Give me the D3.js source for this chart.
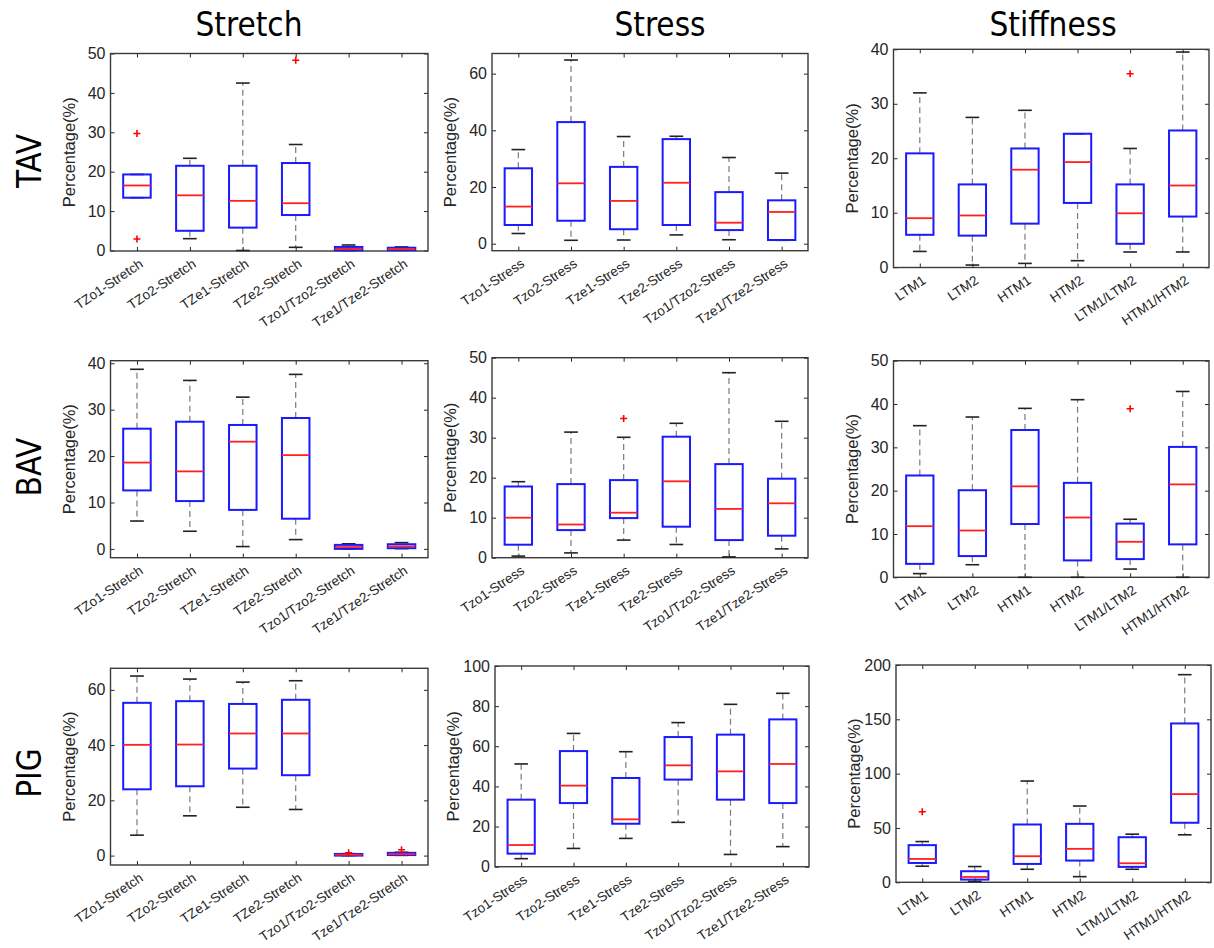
<!DOCTYPE html>
<html><head><meta charset="utf-8">
<script src="https://cdn.jsdelivr.net/npm/d3@7"></script>
<style>body{margin:0;background:#fff}svg{display:block}</style>
</head><body>
<svg id="c" width="1214" height="948"></svg>
<script>
const columnTitles = ["Stretch", "Stress", "Stiffness"];
const rowLabels = ["TAV", "BAV", "PIG"];
const yLabel = "Percentage(%)";

const stretchCats = ["TZo1-Stretch", "TZo2-Stretch", "TZe1-Stretch", "TZe2-Stretch", "Tzo1/Tzo2-Stretch", "Tze1/Tze2-Stretch"];
const stressCats = ["Tzo1-Stress", "Tzo2-Stress", "Tze1-Stress", "Tze2-Stress", "Tzo1/Tzo2-Stress", "Tze1/Tze2-Stress"];
const stiffCats = ["LTM1", "LTM2", "HTM1", "HTM2", "LTM1/LTM2", "HTM1/HTM2"];

// each row: [lower whisker, Q1, median, Q3, upper whisker]
const tavStretch = [[13.4, 13.4, 16.5, 19.3, 19.3], [3.0, 5.0, 14.0, 21.5, 23.4], [0.0, 5.8, 12.6, 21.5, 42.5], [0.8, 9.0, 12.0, 22.2, 26.9], [0.0, 0.05, 0.4, 0.9, 1.4], [0.05, 0.1, 0.35, 0.7, 0.9]];
const tavStretchOut = [[29.7, 2.9], [], [], [48.3], [], []];
const tavStress = [[3.6, 6.6, 13.1, 26.6, 33.2], [1.2, 8.1, 21.3, 42.9, 64.8], [1.3, 5.1, 15.1, 27.1, 37.8], [3.1, 6.6, 21.5, 36.9, 37.9], [1.4, 4.8, 7.4, 18.2, 30.4], [1.2, 1.3, 11.2, 15.3, 24.9]];
const tavStressOut = [[], [], [], [], [], []];
const tavStiff = [[2.9, 5.95, 9.0, 20.9, 32.0], [0.4, 5.8, 9.5, 15.2, 27.5], [0.7, 8.0, 17.9, 21.8, 28.8], [1.2, 11.8, 19.3, 24.5, 24.5], [2.8, 4.3, 9.9, 15.2, 21.8], [2.8, 9.3, 15.0, 25.1, 39.5]];
const tavStiffOut = [[], [], [], [], [35.5], []];

const bavStretch = [[6.0, 12.6, 18.6, 25.9, 38.7], [3.8, 10.3, 16.7, 27.4, 36.3], [0.5, 8.4, 23.1, 26.7, 32.7], [2.0, 6.5, 20.2, 28.2, 37.6], [0.0, 0.0, 0.4, 0.86, 1.1], [0.05, 0.15, 0.55, 1.0, 1.35]];
const bavStretchOut = [[], [], [], [], [], []];
const bavStress = [[0.4, 3.25, 10.0, 17.8, 19.0], [1.2, 6.9, 8.3, 18.4, 31.4], [4.4, 9.9, 11.25, 19.4, 30.1], [3.3, 7.75, 19.1, 30.25, 33.6], [0.2, 4.4, 12.2, 23.4, 46.25], [2.2, 5.5, 13.6, 19.75, 34.1]];
const bavStressOut = [[], [], [34.8], [], [], []];
const bavStiff = [[0.85, 3.1, 11.8, 23.5, 35.0], [2.9, 4.9, 10.8, 20.1, 37.0], [0.0, 12.3, 21.0, 34.0, 39.0], [0.0, 3.9, 13.8, 21.8, 41.0], [1.9, 4.2, 8.2, 12.4, 13.4], [0.0, 7.6, 21.45, 30.1, 42.9]];
const bavStiffOut = [[], [], [], [], [38.9], []];

const pigStretch = [[7.4, 24.0, 40.1, 55.3, 65.0], [14.4, 25.1, 40.2, 55.9, 63.9], [17.5, 31.5, 44.2, 54.9, 62.8], [16.7, 29.1, 44.2, 56.4, 63.3], [0.0, 0.0, 0.3, 0.6, 0.7], [0.1, 0.2, 0.5, 1.0, 1.2]];
const pigStretchOut = [[], [], [], [], [1.0], [2.1]];
const pigStress = [[4.0, 6.5, 10.8, 33.4, 51.2], [9.1, 31.7, 40.4, 57.6, 66.4], [14.1, 21.4, 23.6, 44.2, 57.3], [22.1, 43.4, 50.5, 64.6, 71.8], [6.1, 33.4, 47.5, 65.8, 80.9], [10.0, 31.7, 51.2, 73.4, 86.4]];
const pigStressOut = [[], [], [], [], [], []];
const pigStiff = [[14.8, 17.8, 21.5, 34.2, 37.5], [0.9, 2.5, 4.9, 10.2, 14.5], [12.0, 16.9, 24.0, 53.2, 93.2], [5.2, 20.0, 30.8, 53.8, 70.2], [12.0, 14.2, 17.5, 41.5, 44.3], [43.7, 54.8, 81.2, 146.2, 191.1]];
const pigStiffOut = [[64.9], [], [], [], [], []];

const ticks10to50 = [0, 10, 20, 30, 40, 50];
const ticks20to60 = [0, 20, 40, 60];
const ticks10to40 = [0, 10, 20, 30, 40];
const ticks20to100 = [0, 20, 40, 60, 80, 100];
const ticks50to200 = [0, 50, 100, 150, 200];

// layout: pixel frame and axis limits of each panel
const panels = [
  {row: 0, col: 0, cats: stretchCats, stats: tavStretch, out: tavStretchOut, ticks: ticks10to50, lim: [-0.13, 50], px: [110.5, 428], py: [251, 53.5]},
  {row: 0, col: 1, cats: stressCats, stats: tavStress, out: tavStressOut, ticks: ticks20to60, lim: [-2.47, 67.1], px: [492, 808], py: [250.7, 53.5]},
  {row: 0, col: 2, cats: stiffCats, stats: tavStiff, out: tavStiffOut, ticks: ticks10to40, lim: [-0.05, 40], px: [893.5, 1209], py: [267.5, 49.3]},
  {row: 1, col: 0, cats: stretchCats, stats: bavStretch, out: bavStretchOut, ticks: ticks10to40, lim: [-1.9, 40.55], px: [110.5, 428], py: [557.7, 360.7]},
  {row: 1, col: 1, cats: stressCats, stats: bavStress, out: bavStressOut, ticks: ticks10to50, lim: [0, 50], px: [492, 808], py: [557.7, 357.7]},
  {row: 1, col: 2, cats: stiffCats, stats: bavStiff, out: bavStiffOut, ticks: ticks10to50, lim: [0, 50], px: [893.5, 1209], py: [577.3, 360.7]},
  {row: 2, col: 0, cats: stretchCats, stats: pigStretch, out: pigStretchOut, ticks: ticks20to60, lim: [-3.4, 67.8], px: [110.5, 428], py: [865, 668.3]},
  {row: 2, col: 1, cats: stressCats, stats: pigStress, out: pigStressOut, ticks: ticks20to100, lim: [0, 100], px: [495, 809], py: [866.7, 666]},
  {row: 2, col: 2, cats: stiffCats, stats: pigStiff, out: pigStiffOut, ticks: ticks50to200, lim: [0, 200], px: [896, 1211], py: [882.3, 665]}
];

const svg = d3.select("#c");
const axisColor = "#262626";
const tickFont = "'Liberation Sans', Arial, sans-serif";
const titleFont = "'DejaVu Sans Condensed', 'DejaVu Sans', sans-serif";

// column titles
const titleX = [249, 660, 1053];
svg.selectAll("text.coltitle").data(columnTitles).join("text")
  .attr("class", "coltitle")
  .attr("x", (d, i) => titleX[i]).attr("y", 36)
  .attr("text-anchor", "middle")
  .style("font-family", titleFont).style("font-size", "33px").attr("fill", "#000")
  .text(d => d);

// row labels
const rowY = [161, 467, 773];
svg.selectAll("text.rowlabel").data(rowLabels).join("text")
  .attr("class", "rowlabel")
  .attr("transform", (d, i) => `translate(41,${rowY[i]}) rotate(-90)`)
  .attr("text-anchor", "middle")
  .style("font-family", titleFont).style("font-size", "33px").attr("fill", "#000")
  .text(d => d);

panels.forEach(p => {
  const g = svg.append("g");
  const x = d3.scalePoint().domain(p.cats).range(p.px).padding(0.5);
  const y = d3.scaleLinear().domain(p.lim).range(p.py);
  const step = x.step();
  const bw = step * 0.52;
  const cw = bw * 0.5;
  const [x0, x1] = p.px;
  const [yb, yt] = p.py;

  // axes with inward ticks
  const left = d3.axisLeft(y).tickValues(p.ticks).tickSize(-4).tickPadding(5).tickFormat(d3.format("d"));
  const right = d3.axisRight(y).tickValues(p.ticks).tickSize(-4).tickFormat("");
  const bottom = d3.axisBottom(x).tickSize(-4).tickFormat("");
  const top = d3.axisTop(x).tickSize(-4).tickFormat("");

  const gl = g.append("g").attr("transform", `translate(${x0},0)`).call(left);
  const gr = g.append("g").attr("transform", `translate(${x1},0)`).call(right);
  const gb = g.append("g").attr("transform", `translate(0,${yb})`).call(bottom);
  const gt = g.append("g").attr("transform", `translate(0,${yt})`).call(top);
  [gl, gr, gb, gt].forEach(a => {
    a.select(".domain").remove();
    a.selectAll(".tick line").attr("stroke", axisColor).attr("stroke-width", 1);
  });
  gl.selectAll(".tick text").attr("fill", axisColor)
    .style("font-family", tickFont).style("font-size", "16px");

  // frame
  g.append("rect").attr("x", x0).attr("y", yt).attr("width", x1 - x0).attr("height", yb - yt)
    .attr("fill", "none").attr("stroke", "#3a3a3a").attr("stroke-width", 1.4);

  // rotated category labels
  g.selectAll("text.cat").data(p.cats).join("text")
    .attr("class", "cat")
    .attr("transform", d => `translate(${x(d) + 7},${yb + 15}) rotate(-34)`)
    .attr("text-anchor", "end")
    .attr("fill", axisColor)
    .style("font-family", tickFont).style("font-size", "13.5px")
    .text(d => d);

  // y label
  g.append("text")
    .attr("transform", `translate(${x0 - 36},${(yb + yt) / 2}) rotate(-90)`)
    .attr("text-anchor", "middle")
    .attr("fill", axisColor)
    .style("font-family", tickFont).style("font-size", "16.5px")
    .text(yLabel);

  // boxes
  const boxes = g.selectAll("g.box").data(p.stats.map((s, i) => ({cat: p.cats[i], s, o: p.out[i]}))).join("g").attr("class", "box");
  boxes.each(function (d) {
    const b = d3.select(this);
    const cx = x(d.cat);
    const [lo, q1, med, q3, hi] = d.s;
    // whiskers
    b.append("line").attr("x1", cx).attr("x2", cx).attr("y1", y(q3)).attr("y2", y(hi))
      .attr("stroke", "#7a7a7a").attr("stroke-width", 1.2).attr("stroke-dasharray", "6,4");
    b.append("line").attr("x1", cx).attr("x2", cx).attr("y1", y(q1)).attr("y2", y(lo))
      .attr("stroke", "#7a7a7a").attr("stroke-width", 1.2).attr("stroke-dasharray", "6,4");
    // caps
    [lo, hi].forEach(v => {
      b.append("line").attr("x1", cx - cw / 2).attr("x2", cx + cw / 2).attr("y1", y(v)).attr("y2", y(v))
        .attr("stroke", "#222").attr("stroke-width", 1.6);
    });
    // box
    b.append("rect").attr("x", cx - bw / 2).attr("y", y(q3)).attr("width", bw)
      .attr("height", Math.max(0.5, y(q1) - y(q3)))
      .attr("fill", "none").attr("stroke", "#1a1aff").attr("stroke-width", 2);
    // median
    b.append("line").attr("x1", cx - bw / 2).attr("x2", cx + bw / 2).attr("y1", y(med)).attr("y2", y(med))
      .attr("stroke", "#ff2020").attr("stroke-width", 1.8);
    // outliers
    d.o.forEach(v => {
      const yy = y(v);
      b.append("path").attr("d", `M${cx - 3.5},${yy}H${cx + 3.5}M${cx},${yy - 3.5}V${yy + 3.5}`)
        .attr("stroke", "#ff0000").attr("stroke-width", 1.6);
    });
  });
});
</script>
</body></html>
